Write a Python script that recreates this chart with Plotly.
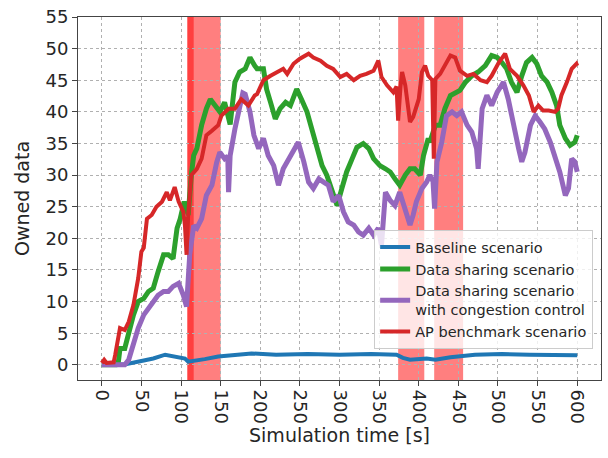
import plotly.graph_objects as go

# ---- data ----
base_t = [0, 30, 50, 65, 80, 97, 105, 109, 116, 130, 147, 170, 189, 220, 260, 300, 340, 372, 380, 389, 400, 410, 421, 440, 471, 505, 540, 570, 600]
base_v = [0, 0.1, 0.6, 1.0, 1.6, 1.3, 1.0, 0.5, 0.6, 0.9, 1.3, 1.6, 1.8, 1.6, 1.7, 1.6, 1.7, 1.6, 1.1, 0.8, 0.9, 1.0, 0.8, 1.2, 1.6, 1.7, 1.6, 1.5, 1.5]

share_t = [0, 18, 21, 23, 29, 34, 40, 46, 53, 59, 65, 71, 78, 84, 90, 95, 99, 104, 109, 113, 116, 120, 126, 132, 137, 143, 149, 155, 162, 168, 174, 181, 187, 193, 196, 204, 208, 213, 219, 225, 232, 238, 246, 252, 259, 265, 271, 278, 284, 290, 297, 303, 309, 316, 322, 330, 337, 343, 351, 358, 364, 370, 376, 383, 389, 395, 402, 406, 412, 414, 421, 427, 433, 440, 446, 452, 459, 467, 475, 484, 492, 499, 505, 511, 517, 524, 530, 536, 543, 549, 555, 562, 568, 574, 578, 585, 591, 597, 600]
share_v = [0, 0, 0.5, 2.6, 2.6, 5.3, 7.9, 10, 10.5, 11.6, 12.1, 14.7, 17.4, 17.4, 16.8, 21.6, 23.1, 25.8, 23.7, 30, 33.1, 34.2, 37.9, 40.5, 42, 41, 40, 41.5, 38, 44.7, 46.3, 46.8, 48.6, 47.3, 46.8, 46.8, 43.6, 41.5, 38.9, 40.5, 41.5, 41, 43.6, 42, 40, 37.3, 34.7, 31.5, 30, 27.9, 25.2, 27.9, 30.5, 32.6, 34.4, 35, 34.2, 32.6, 31.5, 31, 30.5, 29.4, 28.4, 30, 31, 31, 30, 33.1, 35.8, 35.2, 37.9, 37.9, 40.5, 42.6, 43.1, 43.4, 44.7, 45.7, 46.3, 47.3, 48.9, 48.6, 47.8, 46.8, 44.7, 43.1, 45.7, 47.8, 48.6, 47.6, 45.7, 44.7, 43.1, 41, 37.9, 35.8, 34.7, 35.2, 36.3]

cc_t = [0, 29, 34, 40, 46, 53, 59, 65, 71, 78, 84, 90, 97, 103, 107, 111, 116, 120, 126, 132, 139, 145, 149, 155, 159, 160, 162, 168, 174, 178, 181, 187, 192, 198, 204, 210, 217, 223, 229, 236, 242, 248, 255, 261, 267, 274, 280, 286, 292, 299, 305, 311, 318, 324, 330, 337, 343, 349, 353, 358, 364, 370, 376, 383, 389, 393, 397, 404, 410, 414, 418, 420, 423, 429, 435, 442, 448, 454, 461, 467, 473, 475, 477, 480, 486, 492, 499, 507, 513, 520, 526, 530, 534, 541, 547, 553, 559, 566, 572, 578, 585, 589, 593, 597, 600]
cc_v = [0, 0, 0.8, 3.2, 5.8, 7.9, 8.9, 10, 11, 11.6, 11.6, 12.4, 12.9, 11, 9.2, 17.4, 22, 21.6, 23.1, 26.8, 28.4, 32, 33.6, 32.6, 33, 27.3, 33.1, 37.3, 40.5, 43, 42.8, 40, 36.3, 34.2, 35.8, 33.1, 31.5, 28.4, 31, 32.6, 33.6, 35.2, 32.1, 28.9, 27.9, 29.4, 28.9, 28.4, 25.8, 26.8, 24.2, 22.6, 22.1, 21, 20.5, 21.6, 20.5, 21.6, 18.9, 27.3, 26, 25.2, 27.3, 24.2, 22.1, 23.7, 25.8, 27.9, 28.9, 30, 29, 24.7, 32.1, 35.2, 39.4, 40, 39.4, 40, 37.9, 36.8, 34.2, 31, 36, 40.5, 42.6, 41, 43.1, 44.7, 42, 37.3, 34.2, 32.1, 33.6, 37.9, 39.4, 38.4, 37.3, 35.2, 33.1, 30.5, 26.8, 27.9, 32.6, 32.1, 30.5]

ap_t = [0, 3, 6, 15, 17, 20, 23, 29, 34, 40, 46, 50, 53, 57, 63, 69, 76, 82, 86, 92, 97, 103, 105, 107, 109, 113, 120, 126, 132, 139, 147, 151, 160, 168, 176, 185, 193, 196, 204, 213, 221, 229, 234, 242, 250, 261, 267, 276, 284, 292, 301, 309, 318, 326, 334, 343, 349, 353, 360, 368, 372, 374, 377, 379, 383, 389, 393, 400, 404, 408, 412, 417, 419, 421, 427, 433, 440, 446, 452, 461, 469, 478, 486, 492, 501, 509, 515, 524, 532, 539, 545, 551, 557, 564, 572, 576, 580, 587, 593, 599, 600]
ap_v = [0.3, 0.8, 0.3, 0.4, 1.6, 3.5, 5.8, 5.5, 6.8, 9.5, 13.7, 17.9, 18.5, 23.1, 23.7, 25, 25.8, 27.3, 26, 28.1, 25.8, 24.2, 22, 17.4, 23.7, 30, 31, 32.6, 36.3, 37, 37.9, 39.4, 40.5, 40.5, 42, 41, 42.6, 42.8, 45, 45.7, 46.3, 46.8, 46, 47.6, 48.4, 49.2, 48.6, 48.1, 47.3, 46.8, 45.5, 46, 45, 45.7, 46, 46.5, 48.1, 45.5, 44.2, 43.1, 44, 38.6, 44, 46.3, 44.2, 38.4, 39.2, 42, 46.3, 47.3, 45.7, 45, 32.6, 45.2, 46, 47.3, 48.9, 48.6, 46.5, 45.7, 46, 45, 44.7, 45.7, 47.8, 49.2, 46.8, 45.7, 44.2, 42.6, 40, 41, 40.2, 40.2, 40, 40.5, 42.6, 44.7, 46.8, 47.6, 47.3]

bands = [(108, 116), (108, 150), (374, 407), (419.5, 456)]

x_ticks = list(range(0, 601, 50))
y_ticks = list(range(0, 56, 5))

names = ["Baseline scenario", "Data sharing scenario",
         "Data sharing scenario<br>with congestion control", "AP benchmark scenario"]
colors = ["#1f77b4", "#2ca02c", "#9467bd", "#d62728"]

fig = go.Figure()
series = [(base_t, base_v), (share_t, share_v), (cc_t, cc_v), (ap_t, ap_v)]
widths = [4, 5, 5, 4]
for (t, v), n, c, w in zip(series, names, colors, widths):
    fig.add_trace(go.Scatter(x=t, y=v, mode="lines", name=n,
                             line=dict(color=c, width=w)))

for a, b in bands:
    fig.add_shape(type="rect", xref="x", yref="paper", x0=a, x1=b, y0=0, y1=1,
                  fillcolor="rgba(255,0,0,0.5)", line=dict(width=0), layer="below")

font = "DejaVu Sans, Verdana, sans-serif"
axis_common = dict(showline=True, linecolor="#444", linewidth=1, mirror=True,
                   ticks="outside", ticklen=5, tickcolor="#444",
                   showgrid=True, gridcolor="#b0b0b0", griddash="dot", gridwidth=1,
                   zeroline=False, tickfont=dict(size=18, color="#262626"))

fig.update_layout(
    width=608, height=458,
    margin=dict(l=78, r=6, t=15, b=78),
    paper_bgcolor="white", plot_bgcolor="white",
    font=dict(family=font, color="#262626"),
    showlegend=True,
    legend=dict(x=0.985, y=0.085, xanchor="right", yanchor="bottom",
                bgcolor="rgba(255,255,255,0.8)", bordercolor="#cccccc", borderwidth=1,
                font=dict(size=14.5, color="#262626"), tracegroupgap=0,
                itemwidth=30),
    xaxis=dict(range=[-30, 630], tickvals=x_ticks, tickangle=90,
               title=dict(text="Simulation time [s]", font=dict(size=19), standoff=4),
               **axis_common),
    yaxis=dict(range=[-2.4, 55], tickvals=y_ticks,
               title=dict(text="Owned data", font=dict(size=19), standoff=10),
               **axis_common),
)

fig.write_html("out.html")
